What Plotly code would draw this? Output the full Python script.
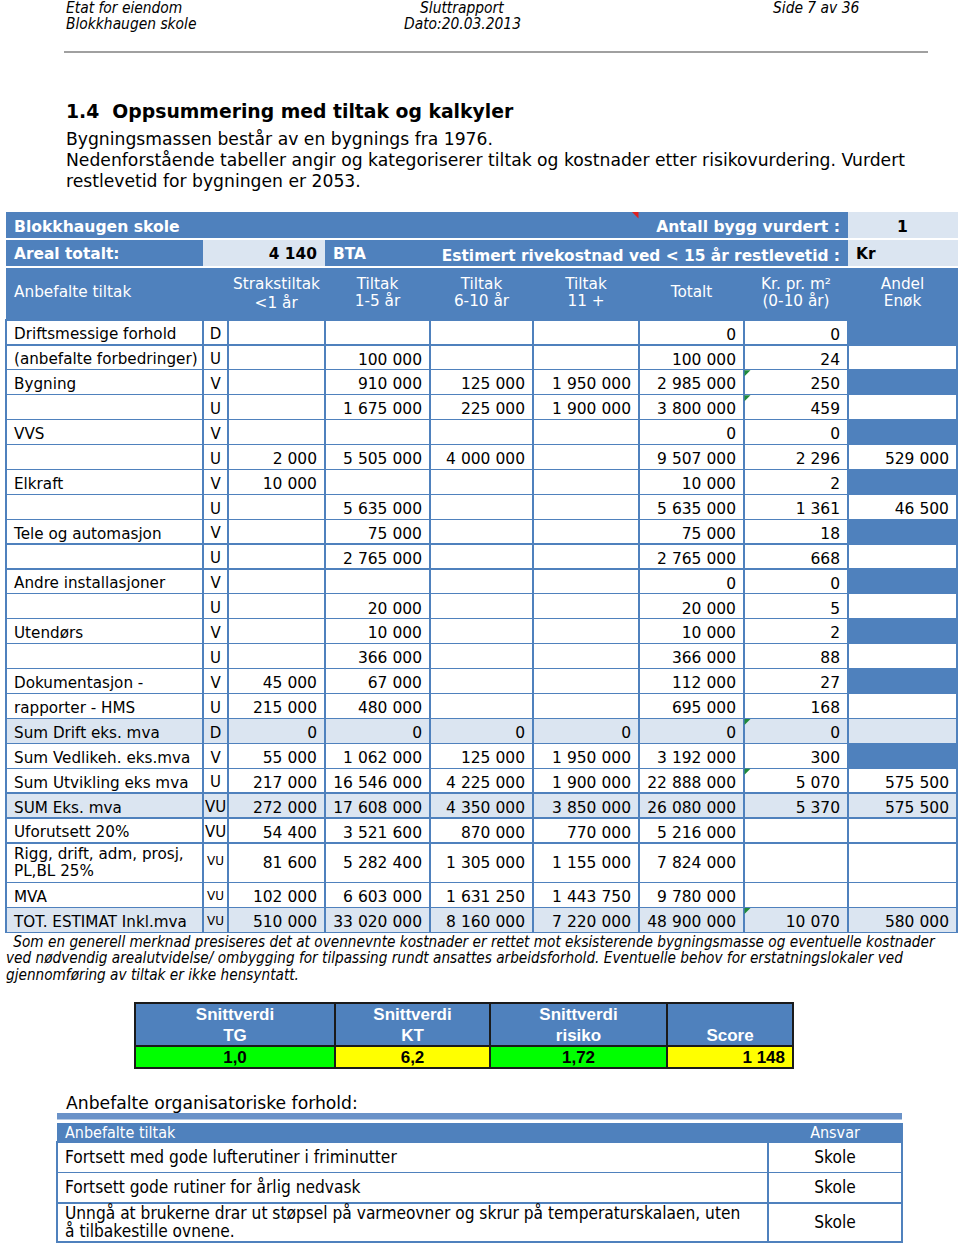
import plotly.graph_objects as go

# ---------------- data ----------------
labels = ["Driftsmessige forhold", "(anbefalte forbedringer)", "Bygning", "", "VVS", "",
          "Elkraft", "", "Tele og automasjon", "", "Andre installasjoner", "", "Utendørs", "",
          "Dokumentasjon -", "rapporter - HMS", "Sum Drift eks. mva", "Sum Vedlikeh. eks.mva",
          "Sum Utvikling eks mva", "SUM Eks. mva", "Uforutsett 20%",
          "Rigg, drift, adm, prosj,<br>PL,BL 25%", "MVA", "TOT. ESTIMAT Inkl.mva"]
codes = ["D", "U", "V", "U", "V", "U", "V", "U", "V", "U", "V", "U", "V", "U", "V", "U",
         "D", "V", "U", "VU", "VU", "VU", "VU", "VU"]
strakstiltak = [None, None, None, None, None, 2000, 10000, None, None, None, None, None, None, None,
                45000, 215000, 0, 55000, 217000, 272000, 54400, 81600, 102000, 510000]
tiltak_1_5 = [None, 100000, 910000, 1675000, None, 5505000, None, 5635000, 75000, 2765000, None,
              20000, 10000, 366000, 67000, 480000, 0, 1062000, 16546000, 17608000, 3521600,
              5282400, 6603000, 33020000]
tiltak_6_10 = [None, None, 125000, 225000, None, 4000000, None, None, None, None, None, None, None,
               None, None, None, 0, 125000, 4225000, 4350000, 870000, 1305000, 1631250, 8160000]
tiltak_11 = [None, None, 1950000, 1900000, None, None, None, None, None, None, None, None, None,
             None, None, None, 0, 1950000, 1900000, 3850000, 770000, 1155000, 1443750, 7220000]
totalt = [0, 100000, 2985000, 3800000, 0, 9507000, 10000, 5635000, 75000, 2765000, 0, 20000,
          10000, 366000, 112000, 695000, 0, 3192000, 22888000, 26080000, 5216000, 7824000,
          9780000, 48900000]
kr_pr_m2 = [0, 24, 250, 459, 0, 2296, 2, 1361, 18, 668, 0, 5, 2, 88, 27, 168, 0, 300, 5070, 5370,
            None, None, None, 10070]
andel_enok = [None, None, None, None, None, 529000, None, 46500, None, None, None, None, None,
              None, None, None, None, None, 575500, 575500, None, None, None, 580000]
commented_rows = [2, 3, 16, 18, 23]

# header lines (first line, single-line title, second line) for each main column
main_headers = [("", "Anbefalte tiltak", ""), ("", "", ""), ("Strakstiltak", "", "<1 år"),
                ("Tiltak", "", "1-5 år"), ("Tiltak", "", "6-10 år"), ("Tiltak", "", "11 +"),
                ("", "Totalt", ""), ("Kr. pr. m²", "", "(0-10 år)"), ("Andel", "", "Enøk")]
sum_rows = ["Sum Drift eks. mva", "SUM Eks. mva", "TOT. ESTIMAT Inkl.mva"]

building = "Blokkhaugen skole"
antall_bygg = "1"
areal = "4 140"

snitt_headers = [("Snittverdi", "TG"), ("Snittverdi", "KT"), ("Snittverdi", "risiko"), ("", "Score")]
snitt_values = ["1,0", "6,2", "1,72", "1 148"]
snitt_colors = ["#00FF00", "#FFFF00", "#00FF00", "#FFFF00"]

org_tiltak = ["Fortsett med gode lufterutiner i friminutter",
              "Fortsett gode rutiner for årlig nedvask",
              "Unngå at brukerne drar ut støpsel på varmeovner og skrur på temperaturskalaen, uten<br>å tilbakestille ovnene."]
org_ansvar = ["Skole", "Skole", "Skole"]

# ---------------- styling ----------------
W, H = 960, 1245
BLUE = "#4F81BD"
LIGHT = "#DBE5F1"
WHITE = "#FFFFFF"
TRANSP = "rgba(0,0,0,0)"
FONT = "DejaVu Sans"
COND = "DejaVu Sans Condensed, DejaVu Sans"
ARIAL = "Liberation Sans, Arial"
NB = "\u00a0"
TXT_OV = 14.7     # distance from an overlay row top to the middle of its text line
SUB = 8.5         # sub-row height used to stack text lines inside one cell
EMPTY_HDR = 16    # height plotly reserves for a table without header


def nb(s):
    return s.replace(" ", NB)


def fmt(v):
    if v is None:
        return ""
    return f"{v:,}".replace(",", NB)


def dom(x0, x1, y0, y1):
    return dict(x=[x0 / W, x1 / W], y=[max(0, 1 - y1 / H), min(1, 1 - y0 / H)])


def overlay(x0, x1, widths, top, cols, sub, font, align):
    """Transparent table carrying only text; its first text row starts at `top`."""
    nrows = len(cols[0])
    return go.Table(
        domain=dom(x0, x1, top - EMPTY_HDR, top + nrows * sub + 40),
        columnwidth=widths,
        header=dict(fill=dict(color=TRANSP), line=dict(width=0, color=TRANSP)),
        cells=dict(values=cols, height=sub, fill=dict(color=TRANSP),
                   line=dict(width=0, color=TRANSP), font=font, align=align),
    )


# main table geometry
X0, X1 = 6, 957
main_widths = [197, 25, 97, 105, 103, 106, 105, 104, 109]
TOP_A, ROW_AB = 212, 27
HDR_TOP, HDR_H = 268, 52
ROW_H, TALL_H = 24.9, 39.7

n = len(labels)
num_cols = [strakstiltak, tiltak_1_5, tiltak_6_10, tiltak_11, totalt, kr_pr_m2, andel_enok]
single_labels = [nb(l) if "<br>" not in l else "" for l in labels]
cell_values = [single_labels, codes] + [[fmt(v) for v in col] for col in num_cols]

row_fill = [LIGHT if lab in sum_rows else WHITE for lab in labels]
enok_fill = [LIGHT if lab in sum_rows else (BLUE if c in ("D", "V") else WHITE)
             for lab, c in zip(labels, codes)]
fills = [row_fill] * 8 + [enok_fill]
main_align = ["left", "center"] + ["right"] * 7
main_sizes = [15.2, 15] + [15.5] * 7

k = [i for i, l in enumerate(labels) if "<br>" in l][0]   # the two-line row
row_tops = []
y = HDR_TOP + HDR_H
for i in range(n):
    row_tops.append(y)
    y += TALL_H if i == k else ROW_H
table_bottom = y

fig = go.Figure()

# Rows A and B (building / area) as one small table
ab_widths = [197, 122, 105, 418, 109]
fig.add_trace(go.Table(
    domain=dom(X0, X1, TOP_A, TOP_A + 2 * ROW_AB + 3),
    columnwidth=ab_widths,
    header=dict(values=[nb(building), "", "", nb("Antall bygg vurdert :"), antall_bygg],
                fill=dict(color=[BLUE, BLUE, BLUE, BLUE, LIGHT]),
                line=dict(color=[BLUE, BLUE, BLUE, BLUE, LIGHT], width=1),
                align=["left", "left", "left", "right", "center"],
                font=dict(family=FONT, size=15.6, weight="bold",
                          color=[WHITE, WHITE, WHITE, WHITE, "black"]), height=ROW_AB),
    cells=dict(values=[[nb("Areal totalt:")], [nb(areal)], ["BTA"],
                       [nb("Estimert rivekostnad ved < 15 år restlevetid :")], ["Kr"]],
               fill=dict(color=[BLUE, LIGHT, BLUE, BLUE, LIGHT]),
               line=dict(color=[BLUE, LIGHT, BLUE, BLUE, LIGHT], width=1),
               align=["left", "right", "left", "right", "left"],
               font=dict(family=FONT, size=15.4, weight="bold",
                         color=[WHITE, "black", WHITE, WHITE, "black"]), height=ROW_AB),
))

# Main table, part 1: header band + single-height rows
fig.add_trace(go.Table(
    domain=dom(X0, X1, HDR_TOP, row_tops[k] + 3),
    columnwidth=main_widths,
    header=dict(values=[""] * 9, fill=dict(color=BLUE), line=dict(color=BLUE, width=1), height=HDR_H),
    cells=dict(values=[col[:k] for col in cell_values], fill=dict(color=[f[:k] for f in fills]),
               line=dict(color=BLUE, width=1.2), align=main_align,
               font=dict(family=FONT, size=main_sizes, color="black"), height=ROW_H),
))

# Main table, part 2: the tall row (as header band) + remaining rows
fig.add_trace(go.Table(
    domain=dom(X0, X1, row_tops[k], table_bottom + 3),
    columnwidth=main_widths,
    header=dict(values=[""] * 9, fill=dict(color=[f[k] for f in fills]),
                line=dict(color=BLUE, width=1.2), height=TALL_H),
    cells=dict(values=[col[k + 1:] for col in cell_values], fill=dict(color=[f[k + 1:] for f in fills]),
               line=dict(color=BLUE, width=1.2), align=main_align,
               font=dict(family=FONT, size=[15.2, 12] + [15.5] * 7, color="black"), height=ROW_H),
))

# Main header texts (three sub-rows so that every line centres on its own)
fig.add_trace(overlay(X0, X1, main_widths, HDR_TOP + HDR_H / 2 - 1.5 - SUB - TXT_OV,
                      [[nb(a), nb(b), nb(c)] for a, b, c in main_headers], SUB,
                      dict(family=FONT, size=15.3, color=WHITE), ["left", "left"] + ["center"] * 7))

# Texts of the two-line row
l1, l2 = labels[k].split("<br>")
tall_vals = [[nb(l1), "", nb(l2)]] + [["", col[k], ""] for col in cell_values[1:]]
fig.add_trace(overlay(X0, X1, main_widths, row_tops[k] + TALL_H / 2 - SUB - TXT_OV, tall_vals, SUB,
                      dict(family=FONT, size=[15.2, 12] + [15.5] * 7, color="black"), main_align))

# Snittverdi table
SX0, SX1, S_TOP, S_HDR, S_ROW = 135, 793, 1003, 43, 22
snitt_widths = [200, 155, 177, 126]
fig.add_trace(go.Table(
    domain=dom(SX0, SX1, S_TOP, S_TOP + S_HDR + S_ROW + 3),
    columnwidth=snitt_widths,
    header=dict(values=[""] * 4, fill=dict(color=BLUE), line=dict(color="#1A1A1A", width=2), height=S_HDR),
    cells=dict(values=[[""] for _ in snitt_values], fill=dict(color=snitt_colors),
               line=dict(color="#1A1A1A", width=2), height=S_ROW),
))
fig.add_trace(overlay(SX0, SX1, snitt_widths, S_TOP + S_HDR / 4 - TXT_OV,
                      [[a, b] for a, b in snitt_headers], S_HDR / 2,
                      dict(family=ARIAL, size=17, weight="bold", color=WHITE), "center"))
fig.add_trace(overlay(SX0, SX1, snitt_widths, S_TOP + S_HDR + S_ROW / 2 - 0.5 - TXT_OV,
                      [[nb(v)] for v in snitt_values], S_ROW,
                      dict(family=ARIAL, size=17, weight="bold", color="black"),
                      ["center", "center", "center", "right"]))

# Organisational table
OX0, OX1, O_TOP, O_HDR, O_ROW, O_TALL = 57, 902, 1123, 19, 30.5, 39
O_SUB = 9
org_widths = [711, 134]
m1, m2 = org_tiltak[2].split("<br>")
fig.add_trace(go.Table(
    domain=dom(OX0, OX1, O_TOP, O_TOP + O_HDR + O_ROW + 3),
    columnwidth=org_widths,
    header=dict(values=["", ""], fill=dict(color=BLUE), line=dict(color=BLUE, width=1), height=O_HDR),
    cells=dict(values=[[nb(org_tiltak[0])], [org_ansvar[0]]],
               fill=dict(color=WHITE), line=dict(color=BLUE, width=1.3), align=["left", "center"],
               font=dict(family=COND, size=17.2, color="black"), height=O_ROW),
))
o2_top = O_TOP + O_HDR + O_ROW
fig.add_trace(go.Table(
    domain=dom(OX0, OX1, o2_top, H),
    columnwidth=org_widths,
    header=dict(values=[nb(org_tiltak[1]), org_ansvar[1]], fill=dict(color=WHITE),
                line=dict(color=BLUE, width=1.3), align=["left", "center"],
                font=dict(family=COND, size=17.2, color="black"), height=O_ROW),
    cells=dict(values=[[""], [""]], fill=dict(color=WHITE), line=dict(color=BLUE, width=1.3),
               height=O_TALL),
))
fig.add_trace(overlay(OX0, OX1, org_widths, O_TOP + O_HDR / 2 - TXT_OV,
                      [[nb("Anbefalte tiltak")], ["Ansvar"]], O_HDR,
                      dict(family=COND, size=16, color=WHITE), ["left", "center"]))
fig.add_trace(overlay(OX0, OX1, org_widths, o2_top + O_ROW + O_TALL / 2 - 1 - O_SUB - TXT_OV,
                      [[nb(m1), "", nb(m2)], ["", org_ansvar[2], ""]], O_SUB,
                      dict(family=COND, size=17.2, color="black"), ["left", "center"]))

# ---------------- page text ----------------
annotations = []


def add_text(x, y, text, size, family=COND, color="black", anchor="left"):
    annotations.append(dict(x=x / W, y=1 - y / H, xref="paper", yref="paper", text=text,
                            showarrow=False, xanchor=anchor, yanchor="middle",
                            font=dict(family=family, size=size, color=color)))


add_text(64, 8, "<i>Etat for eiendom</i>", 15.4)
add_text(64, 24, "<i>Blokkhaugen skole</i>", 15.4)
add_text(462, 8, "<i>Sluttrapport</i>", 15.4, anchor="center")
add_text(462, 24, "<i>Dato:20.03.2013</i>", 15.4, anchor="center")
add_text(771, 8, "<i>Side 7 av 36</i>", 15.4)
add_text(64, 112, "<b>1.4  Oppsummering med tiltak og kalkyler</b>", 18.8, family=FONT)
add_text(64, 139, "Bygningsmassen består av en bygnings fra 1976.", 17.2, family=FONT)
add_text(64, 160, "Nedenforstående tabeller angir og kategoriserer tiltak og kostnader etter risikovurdering. Vurdert", 17.2, family=FONT)
add_text(64, 181, "restlevetid for bygningen er 2053.", 17.2, family=FONT)
add_text(7, 942, "<i> Som en generell merknad presiseres det at ovennevnte kostnader er rettet mot eksisterende bygningsmasse og eventuelle kostnader</i>", 15.2)
add_text(4, 958, "<i>ved nødvendig arealutvidelse/ ombygging for tilpassing rundt ansattes arbeidsforhold. Eventuelle behov for erstatningslokaler ved</i>", 15.2)
add_text(4, 975, "<i>gjennomføring av tiltak er ikke hensyntatt.</i>", 15.2)
add_text(64, 1103, "Anbefalte organisatoriske forhold:", 17.2, family=FONT)


def P(x, y):
    return f"{x / W:.5f},{1 - y / H:.5f}"


def hline(x0, x1, yy, color, width):
    return dict(type="line", xref="paper", yref="paper", x0=x0 / W, x1=x1 / W, y0=1 - yy / H,
                y1=1 - yy / H, line=dict(color=color, width=width))


shapes = [
    hline(64, 928, 52, "#808080", 1.5),
    hline(X0, X1 + 2, TOP_A + ROW_AB, WHITE, 2.2),
    hline(X0, X1 + 2, TOP_A + 2 * ROW_AB + 1, WHITE, 2.2),
    dict(type="rect", xref="paper", yref="paper", x0=OX0 / W, x1=OX1 / W, y0=1 - 1119.5 / H, y1=1 - 1113 / H,
         fillcolor="#6A92C8", line=dict(width=0)),
    # red comment marker in the title row
    dict(type="path", xref="paper", yref="paper",
         path=f"M{P(632, TOP_A)} L{P(638.5, TOP_A)} L{P(638.5, TOP_A + 6.5)} Z",
         fillcolor="#E02020", line=dict(width=0)),
]
kx = X0 + sum(main_widths[:7])
for r in commented_rows:
    t = row_tops[r] + 0.5
    shapes.append(dict(type="path", xref="paper", yref="paper",
                       path=f"M{P(kx + 0.5, t)} L{P(kx + 6.5, t)} L{P(kx + 0.5, t + 6)} Z",
                       fillcolor="#1F8A3B", line=dict(width=0)))

fig.update_layout(width=W, height=H, margin=dict(l=0, r=0, t=0, b=0),
                  paper_bgcolor="white", plot_bgcolor="white",
                  annotations=annotations, shapes=shapes, showlegend=False)

fig.write_html("out.html", config={"displayModeBar": False},
               post_script="document.body.style.margin='0px';")
